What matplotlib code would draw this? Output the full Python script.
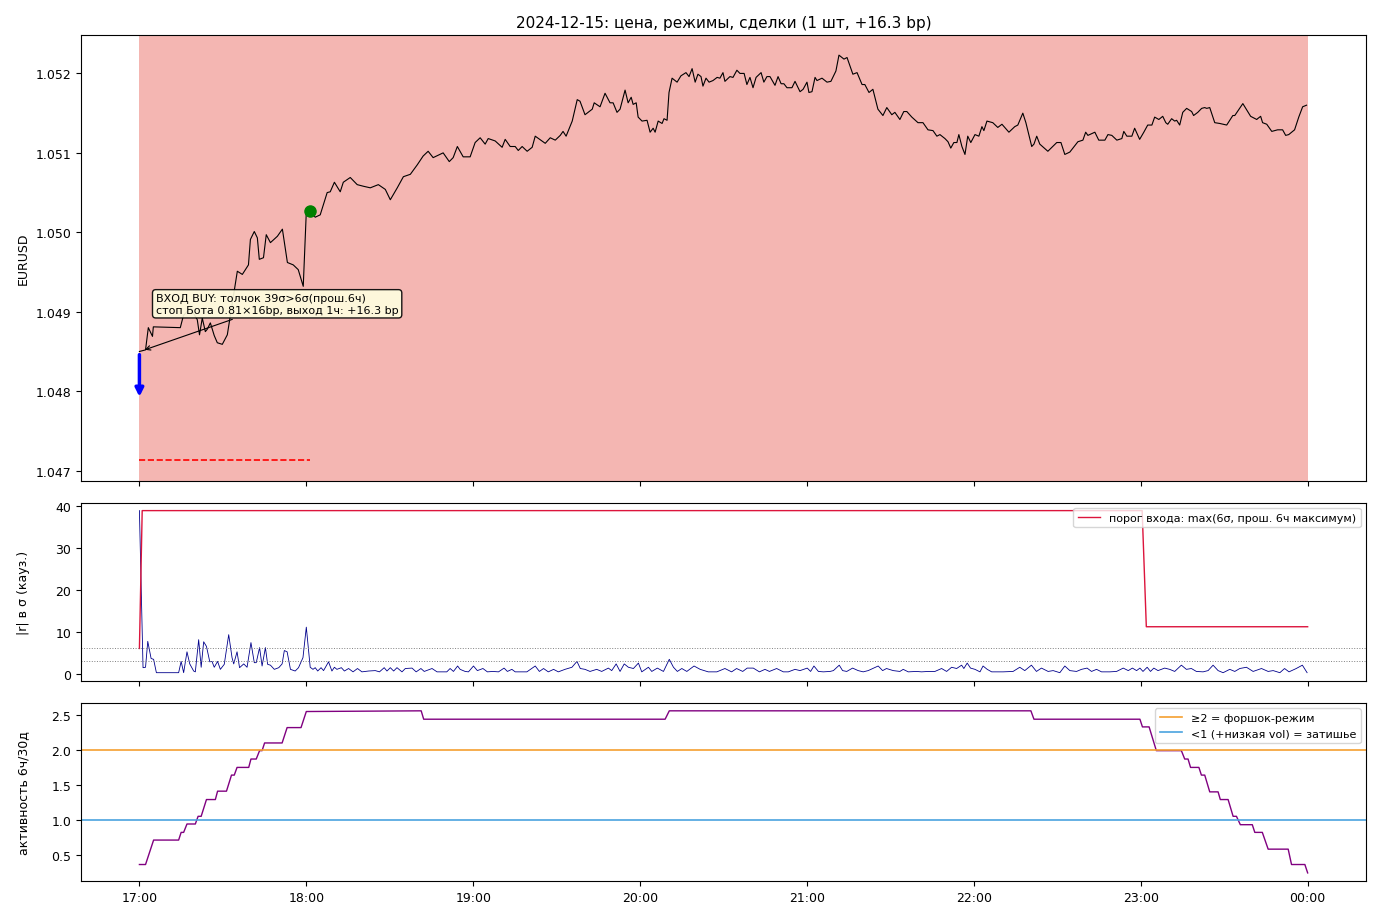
import numpy as np
import pandas as pd
import matplotlib
matplotlib.use('Agg')
import matplotlib.pyplot as plt
import matplotlib.dates as mdates

plt.rcParams['font.size'] = 9

START = pd.Timestamp('2024-12-15 17:00')

# EURUSD, минуты от 17:00
price_min = [
    0, 2.2, 3.2, 4.7, 5.0, 14.7, 15.8, 18.3, 20.8, 21.6,
    22.6, 23.7, 24.4, 25.5, 26.9, 28.0, 29.8, 31.6, 35.2, 37.0,
    39.2, 39.9, 41.3, 42.4, 43.1, 44.6, 45.6, 47.1, 49.6, 51.4,
    53.2, 55.3, 57.1, 58.9, 60.0, 61.4, 63.2, 65.0, 67.5, 68.6,
    70.1, 72.2, 73.3, 75.8, 78.3, 80.5, 83.0, 85.9, 88.4, 90.2,
    92.7, 94.9, 97.4, 99.9, 102.0, 103.8, 105.6, 109.2, 111.4, 112.8,
    114.3, 116.4, 118.9, 120.7, 122.5, 124.3, 125.4, 127.9, 130.4, 131.5,
    133.3, 135.1, 136.2, 137.6, 139.4, 141.2, 142.3, 145.9, 147.7, 149.5,
    151.3, 152.3, 153.4, 155.6, 157.4, 158.4, 160.2, 162.8, 163.5, 165.6,
    167.4, 169.2, 170.3, 171.7, 172.8, 174.6, 175.7, 176.8, 177.5, 178.6,
    179.3, 180.7, 182.5, 183.6, 184.7, 185.4, 186.5, 187.9, 188.6, 189.7,
    190.4, 191.5, 193.3, 194.7, 196.5, 197.6, 198.7, 199.8, 200.8, 201.9,
    202.6, 203.7, 204.8, 206.2, 207.7, 208.7, 209.8, 210.5, 212.3, 213.4,
    214.8, 215.9, 217.4, 218.4, 219.5, 220.6, 221.7, 223.5, 224.5, 225.6,
    226.7, 228.5, 229.6, 230.7, 231.7, 232.8, 234.6, 235.7, 237.5, 238.6,
    240.0, 240.7, 241.8, 242.9, 243.6, 245.4, 247.2, 248.6, 250.4, 251.5,
    253.3, 254.4, 256.5, 258.0, 259.8, 260.8, 262.3, 263.7, 265.5, 267.3,
    268.7, 270.5, 271.6, 273.4, 274.8, 275.9, 277.7, 279.9, 281.7, 283.5,
    285.3, 286.7, 287.8, 289.6, 290.7, 291.7, 292.8, 293.9, 294.6, 295.7,
    296.8, 297.8, 298.9, 300.4, 301.8, 302.9, 303.6, 304.7, 306.8, 308.6,
    310.1, 311.1, 312.6, 314.7, 315.8, 317.6, 318.7, 320.8, 321.6, 322.6,
    323.7, 326.6, 329.8, 331.3, 332.7, 334.5, 337.4, 339.2, 340.2, 341.0,
    343.5, 344.9, 347.1, 348.2, 349.6, 351.4, 353.2, 353.9, 355.0, 356.8,
    357.8, 359.6, 361.1, 362.5, 364.0, 365.0, 366.5, 367.9, 369.0, 369.7,
    371.1, 372.2, 372.9, 374.0, 375.1, 376.5, 378.3, 379.0, 380.5, 381.9,
    383.0, 383.7, 384.8, 386.6, 388.4, 390.9, 393.1, 393.8, 396.7, 399.5,
    401.7, 402.0, 403.1, 403.8, 405.3, 407.1, 409.2, 411.0, 412.1, 413.2,
    415.3, 416.8, 418.2, 419.6,
]
price_val = [
    1.04850, 1.04852, 1.04880, 1.04869, 1.04881, 1.04880, 1.04895, 1.04905, 1.04890, 1.04871,
    1.04892, 1.04875, 1.04878, 1.04886, 1.04870, 1.04861, 1.04859, 1.04871, 1.04951, 1.04947,
    1.04959, 1.04991, 1.05001, 1.04993, 1.04966, 1.04968, 1.04997, 1.04987, 1.04995, 1.05004,
    1.04962, 1.04959, 1.04953, 1.04932, 1.05026, 1.05027, 1.05019, 1.05022, 1.05050, 1.05051,
    1.05063, 1.05051, 1.05063, 1.05069, 1.05060, 1.05058, 1.05056, 1.05060, 1.05054, 1.05041,
    1.05056, 1.05070, 1.05073, 1.05085, 1.05096, 1.05102, 1.05094, 1.05100, 1.05089, 1.05094,
    1.05108, 1.05095, 1.05095, 1.05113, 1.05119, 1.05111, 1.05118, 1.05115, 1.05107, 1.05117,
    1.05108, 1.05108, 1.05103, 1.05108, 1.05102, 1.05107, 1.05121, 1.05112, 1.05119, 1.05116,
    1.05122, 1.05127, 1.05121, 1.05140, 1.05167, 1.05165, 1.05148, 1.05155, 1.05163, 1.05158,
    1.05175, 1.05163, 1.05163, 1.05151, 1.05155, 1.05179, 1.05163, 1.05170, 1.05161, 1.05163,
    1.05145, 1.05140, 1.05141, 1.05126, 1.05131, 1.05126, 1.05140, 1.05137, 1.05143, 1.05141,
    1.05176, 1.05194, 1.05189, 1.05197, 1.05201, 1.05196, 1.05206, 1.05189, 1.05199, 1.05196,
    1.05184, 1.05194, 1.05189, 1.05191, 1.05195, 1.05194, 1.05201, 1.05190, 1.05196, 1.05195,
    1.05204, 1.05200, 1.05200, 1.05186, 1.05195, 1.05182, 1.05195, 1.05201, 1.05189, 1.05196,
    1.05196, 1.05185, 1.05196, 1.05187, 1.05187, 1.05182, 1.05182, 1.05190, 1.05177, 1.05180,
    1.05189, 1.05176, 1.05177, 1.05195, 1.05191, 1.05194, 1.05189, 1.05190, 1.05203, 1.05223,
    1.05218, 1.05220, 1.05199, 1.05201, 1.05186, 1.05186, 1.05176, 1.05180, 1.05155, 1.05147,
    1.05157, 1.05148, 1.05151, 1.05142, 1.05152, 1.05152, 1.05145, 1.05138, 1.05138, 1.05129,
    1.05128, 1.05121, 1.05123, 1.05118, 1.05114, 1.05106, 1.05113, 1.05113, 1.05123, 1.05108,
    1.05098, 1.05121, 1.05113, 1.05123, 1.05121, 1.05133, 1.05128, 1.05140, 1.05138, 1.05132,
    1.05136, 1.05132, 1.05126, 1.05133, 1.05135, 1.05150, 1.05138, 1.05108, 1.05111, 1.05121,
    1.05111, 1.05102, 1.05113, 1.05113, 1.05098, 1.05101, 1.05114, 1.05116, 1.05126, 1.05122,
    1.05126, 1.05116, 1.05116, 1.05123, 1.05122, 1.05116, 1.05118, 1.05127, 1.05121, 1.05121,
    1.05131, 1.05117, 1.05126, 1.05135, 1.05135, 1.05145, 1.05142, 1.05146, 1.05138, 1.05136,
    1.05143, 1.05140, 1.05141, 1.05135, 1.05151, 1.05156, 1.05152, 1.05147, 1.05151, 1.05156,
    1.05157, 1.05156, 1.05157, 1.05138, 1.05137, 1.05135, 1.05147, 1.05147, 1.05162, 1.05146,
    1.05142, 1.05143, 1.05146, 1.05138, 1.05136, 1.05127, 1.05129, 1.05129, 1.05122, 1.05123,
    1.05129, 1.05145, 1.05158, 1.05160,
]

# сделка
entry_min, entry_price = 1.0, 1.04851
exit_min, exit_price = 61.4, 1.05027
stop_price = 1.04713
arrow_from, arrow_to = 1.04846, 1.04793
regime_span = (0, 420)

# |r| в сигмах
sig_min = [
    0, 1.3, 2.2, 3.0, 4.2, 5.1, 6.1, 14.1, 15.0, 15.9,
    17.1, 18.1, 19.5, 20.1, 21.3, 22.2, 23.1, 24.1, 25.3, 26.1,
    26.9, 28.1, 29.1, 30.5, 32.1, 33.3, 33.9, 35.1, 36.0, 37.5,
    38.7, 40.1, 41.3, 42.0, 43.2, 44.1, 45.3, 46.1, 47.1, 48.5,
    50.1, 51.3, 52.1, 53.1, 54.3, 56.0, 57.2, 58.8, 60.0, 61.4,
    62.4, 63.2, 64.1, 65.3, 66.2, 68.0, 69.2, 70.1, 71.0, 72.6,
    73.7, 75.2, 76.8, 78.4, 80.0, 82.4, 84.8, 86.3, 88.0, 89.0,
    90.2, 91.4, 92.6, 94.4, 95.6, 98.0, 99.5, 101.2, 102.4, 105.2,
    107.0, 110.5, 111.7, 112.9, 114.4, 115.3, 117.1, 118.3, 120.1, 121.5,
    123.5, 125.1, 127.1, 129.1, 131.1, 132.3, 133.9, 135.1, 139.3, 142.3,
    143.8, 145.3, 147.0, 148.9, 150.6, 153.0, 155.5, 157.3, 158.5, 160.2,
    162.0, 164.4, 166.2, 168.6, 169.8, 171.4, 172.8, 174.3, 175.8, 177.6,
    179.4, 180.6, 183.0, 184.2, 186.2, 188.4, 190.5, 192.0, 193.4, 195.0,
    196.8, 199.4, 201.6, 204.5, 207.6, 210.5, 212.9, 214.7, 216.9, 218.5,
    220.7, 222.9, 224.9, 226.5, 229.1, 231.5, 233.3, 235.7, 237.5, 240.1,
    241.3, 242.5, 244.1, 245.9, 248.3, 249.5, 251.6, 252.8, 254.3, 256.4,
    258.4, 260.2, 262.0, 265.6, 267.2, 268.6, 271.0, 273.4, 274.6, 276.4,
    279.4, 281.2, 283.6, 286.0, 288.4, 290.2, 292.0, 293.8, 295.6, 296.4,
    297.6, 298.8, 300.4, 302.2, 303.3, 304.8, 306.4, 310.5, 314.1, 316.5,
    318.3, 320.7, 322.5, 324.3, 326.7, 328.5, 330.9, 332.7, 334.5, 336.9,
    338.7, 340.7, 342.3, 344.1, 345.9, 348.9, 351.3, 353.7, 355.5, 357.0,
    358.5, 359.7, 360.8, 362.3, 363.5, 364.7, 366.2, 368.6, 370.4, 372.2,
    374.6, 376.4, 378.2, 380.0, 382.4, 384.2, 386.0, 387.8, 389.6, 392.0,
    393.8, 395.6, 398.0, 400.4, 403.4, 405.8, 407.6, 410.0, 411.7, 413.3,
    415.9, 418.1, 419.8,
]
sig_val = [
    39, 1.4, 1.5, 7.7, 3.6, 3.4, 0.2, 0.2, 2.9, 0.2,
    5.2, 2.3, 0.6, 0.4, 8.1, 1.5, 7.6, 6.5, 2.8, 2.9,
    1.5, 2.9, 1.0, 2.2, 9.3, 3.8, 2.3, 5.2, 1.4, 2.3,
    1.5, 7.4, 2.6, 2.6, 6.2, 1.8, 6.2, 2.2, 2.0, 1.0,
    1.4, 2.3, 5.5, 5.2, 1.0, 0.6, 1.4, 3.8, 11.1, 1.5,
    1.0, 1.4, 0.6, 1.4, 0.7, 2.8, 0.6, 1.5, 1.0, 1.4,
    0.6, 1.2, 0.4, 1.2, 0.4, 0.6, 0.7, 0.4, 1.4, 0.6,
    1.4, 0.6, 1.4, 0.4, 1.2, 1.3, 0.4, 1.2, 0.5, 1.2,
    0.4, 0.4, 1.2, 0.5, 1.8, 1.0, 0.5, 0.4, 1.8, 0.7,
    1.2, 0.4, 0.5, 0.4, 1.3, 0.5, 1.0, 0.4, 0.4, 1.8,
    0.5, 1.2, 0.4, 1.0, 0.4, 1.0, 1.5, 2.9, 1.2, 1.0,
    0.5, 1.0, 0.5, 1.3, 0.7, 2.3, 0.5, 2.3, 1.5, 1.2,
    2.5, 0.4, 1.5, 0.5, 1.3, 0.5, 3.4, 1.5, 0.5, 1.2,
    0.5, 1.8, 1.0, 0.4, 0.4, 1.2, 0.4, 1.2, 0.5, 1.3,
    1.3, 0.4, 1.0, 0.5, 1.2, 0.4, 0.4, 1.0, 0.7, 1.3,
    0.5, 1.8, 0.5, 0.4, 0.5, 0.7, 2.0, 0.7, 0.5, 1.3,
    0.7, 0.4, 0.7, 1.8, 0.7, 1.2, 0.7, 0.5, 1.0, 0.4,
    0.5, 0.4, 0.5, 0.5, 1.2, 0.5, 1.5, 1.2, 2.0, 1.2,
    2.5, 1.3, 1.0, 0.4, 1.8, 1.0, 0.4, 0.4, 0.5, 1.5,
    0.7, 2.0, 0.5, 1.3, 0.5, 0.7, 0.2, 1.8, 0.7, 0.5,
    1.0, 1.3, 0.5, 1.0, 0.4, 0.4, 0.5, 1.3, 0.7, 1.3,
    0.7, 1.3, 0.5, 1.5, 0.5, 1.3, 0.7, 1.3, 1.0, 0.5,
    2.0, 1.0, 1.2, 0.5, 0.4, 0.7, 2.0, 0.7, 0.2, 1.0,
    0.5, 1.2, 1.5, 0.5, 1.2, 0.5, 0.7, 0.2, 1.2, 0.4,
    1.2, 2.0, 0.2,
]

# порог входа
thr_min = [0, 1, 360.5, 362, 420]
thr_val = [6, 39, 39, 11.2, 11.2]
sig_levels = [6, 3]

# активность 6ч/30д
act_min = [
    0, 2.2, 5.1, 14.1, 15.0, 15.9, 17.1, 20.1, 21.1, 22.2,
    24.1, 27.3, 28.1, 31.3, 33.1, 34.1, 35.1, 39.3, 40.1, 42.0,
    43.2, 44.1, 45.0, 51.3, 53.1, 58.1, 60.0, 101.3, 102.2, 189.0,
    190.5, 320.5, 321.6, 359.7, 360.6, 363.0, 365.6, 374.6, 375.8, 377.0,
    377.9, 380.9, 381.8, 383.0, 384.8, 387.8, 388.6, 391.4, 393.2, 394.4,
    395.8, 400.1, 401.0, 403.7, 405.8, 413.0, 414.2, 419.0, 420.0,
]
act_val = [
    0.36, 0.36, 0.71, 0.71, 0.82, 0.82, 0.94, 0.94, 1.05, 1.05,
    1.29, 1.29, 1.41, 1.41, 1.64, 1.64, 1.75, 1.75, 1.87, 1.87,
    1.99, 1.99, 2.10, 2.10, 2.32, 2.32, 2.55, 2.56, 2.44, 2.44,
    2.56, 2.56, 2.44, 2.44, 2.33, 2.33, 1.99, 1.99, 1.87, 1.87,
    1.75, 1.75, 1.64, 1.64, 1.40, 1.40, 1.29, 1.29, 1.05, 1.05,
    0.93, 0.93, 0.82, 0.82, 0.58, 0.58, 0.36, 0.36, 0.24,
]


def to_time(minutes):
    return START + pd.to_timedelta(np.asarray(minutes, dtype=float), unit='m')


def to_num(minutes):
    return mdates.date2num(to_time([minutes]))[0]


fig, (ax1, ax2, ax3) = plt.subplots(3, 1, sharex=True, figsize=(13.8, 9.2),
                                    gridspec_kw={'height_ratios': [2.5, 1, 1]})
fig.subplots_adjust(left=0.0587, right=0.9899, top=0.961, bottom=0.0413, hspace=0.082)

# --- цена ---
ax1.axvspan(to_time([regime_span[0]])[0], to_time([regime_span[1]])[0], color='#f4b6b2', lw=0)
ax1.plot(to_time(price_min), price_val, color='black', lw=0.8)
ax1.plot(to_time([0, exit_min]), [stop_price, stop_price], 'r--', lw=1.2)
ax1.plot(to_time([exit_min]), [exit_price], 'o', color='green', ms=8)
ax1.annotate('', xy=(to_num(0), arrow_to), xytext=(to_num(0), arrow_from),
             arrowprops=dict(arrowstyle='-|>', color='blue', lw=2.5, mutation_scale=12,
                             shrinkA=0, shrinkB=0))
ax1.annotate('ВХОД BUY: толчок 39σ>6σ(прош.6ч)\nстоп Бота 0.81×16bp, выход 1ч: +16.3 bp',
             xy=(to_num(entry_min), entry_price), xytext=(to_num(5.9), 1.04910),
             ha='left', va='center', fontsize=8,
             bbox=dict(boxstyle='round,pad=0.3', fc='lightyellow', ec='black', alpha=0.9),
             arrowprops=dict(arrowstyle='->', color='black', lw=0.8))
ax1.set_ylabel('EURUSD')
ax1.set_title('2024-12-15: цена, режимы, сделки (1 шт, +16.3 bp)', fontsize=11)

# --- сигмы ---
ax2.plot(to_time(sig_min), sig_val, color='darkblue', lw=0.6)
ax2.plot(to_time(thr_min), thr_val, color='crimson', lw=1.0,
         label='порог входа: max(6σ, прош. 6ч максимум)')
for lvl in sig_levels:
    ax2.axhline(lvl, color='gray', ls=':', lw=0.7)
ax2.set_ylabel('|r| в σ (кауз.)')
ax2.legend(loc='upper right', fontsize=8)

# --- активность ---
ax3.plot(to_time(act_min), act_val, color='purple', lw=1.0)
ax3.axhline(2.0, color='#f5a030', lw=1.2, label='≥2 = форшок-режим')
ax3.axhline(1.0, color='#4aa3df', lw=1.2, label='<1 (+низкая vol) = затишье')
ax3.set_ylabel('активность 6ч/30д')
ax3.legend(loc='upper right', fontsize=8)

ax3.xaxis.set_major_locator(mdates.HourLocator())
ax3.xaxis.set_major_formatter(mdates.DateFormatter('%H:%M'))

fig.align_ylabels()
fig.savefig('out.png', dpi=100)
